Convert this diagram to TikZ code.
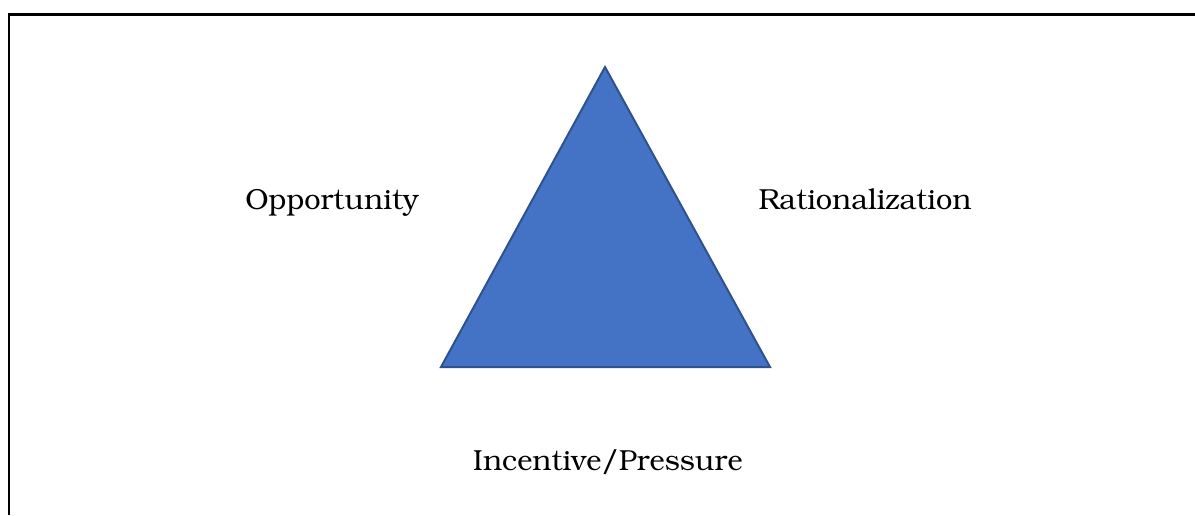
\documentclass[tikz,border=0pt]{standalone}
\usepackage[T1]{fontenc}
\usepackage{bookman}
\usepackage{tikz}

\definecolor{triblue}{HTML}{4472C4}
\definecolor{triedge}{HTML}{2F528F}

\begin{document}
\begin{tikzpicture}[
    x=0.5pt, y=0.5pt,
    label/.style={anchor=base, font=\fontsize{14.5}{17}\selectfont},
    frame/.style={line width=1.25pt, black},
    tri/.style={fill=triblue, draw=triedge, line width=1pt, line join=miter}
]

\useasboundingbox (0,0) rectangle (1195,515);

% Frame edges (top and left only)
\coordinate (frametl) at (9,500.5);
\draw [frame] (1195,500.5) -- (frametl) -- (9,0);

% Triangle
\coordinate (apex) at (605,448);
\coordinate (baseleft) at (441,148);
\coordinate (baseright) at (770,148);
\draw [tri] (apex) -- (baseright) -- (baseleft) -- cycle;

% Labels
\node [label] (opp) at (332,305) {Opportunity};
\node [label] (rat) at (865,306) {Rationalization};
\node [label] (inc) at (608,44.5) {Incentive/Pressure};

\end{tikzpicture}
\end{document}
